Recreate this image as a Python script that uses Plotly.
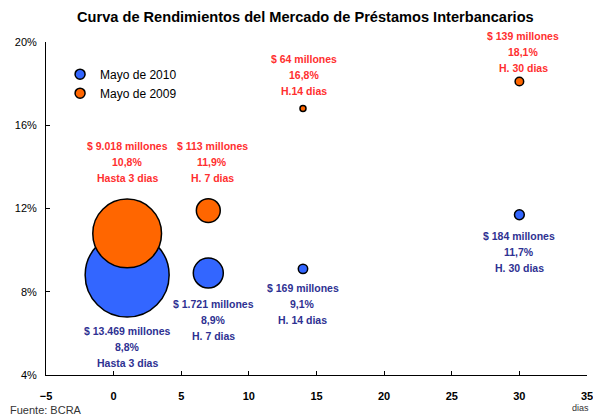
import plotly.graph_objects as go

# plazo en dias
plazo = [1, 7, 14, 30]

# Mayo de 2010
tasa_2010 = [8.8, 8.9, 9.1, 11.7]
monto_2010 = [13469, 1721, 169, 184]
etiq_2010 = ["$ 13.469 millones", "$ 1.721 millones", "$ 169 millones", "$ 184 millones"]
pct_2010 = ["8,8%", "8,9%", "9,1%", "11,7%"]
plazo_2010 = ["Hasta 3 dias", "H. 7 dias", "H. 14 dias", "H. 30 dias"]

# Mayo de 2009
tasa_2009 = [10.8, 11.9, 16.8, 18.1]
monto_2009 = [9018, 113, 64, 139]
# tamaño de burbuja tal como aparece en el grafico (la de 7 dias esta sobredimensionada)
burbuja_2009 = [9018, 1090, 64, 139]
etiq_2009 = ["$ 9.018 millones", "$ 113 millones", "$ 64 millones", "$ 139 millones"]
pct_2009 = ["10,8%", "11,9%", "16,8%", "18,1%"]
plazo_2009 = ["Hasta 3 dias", "H. 7 dias", "H.14 dias", "H. 30 dias"]

FONT = "Liberation Sans"
AZUL = "#3366FF"
NARANJA = "#FF6600"
TXT_AZUL = "#2E3192"
TXT_ROJO = "#FF2F2F"
sizeref = 13469 / (2 * 42 ** 2)

fig = go.Figure()
fig.add_trace(go.Scatter(
    x=plazo, y=tasa_2010, mode="markers", name="Mayo de 2010", showlegend=False,
    marker=dict(size=monto_2010, sizemode="area", sizeref=sizeref, sizemin=3,
                color=AZUL, opacity=1, line=dict(color="black", width=1.5)),
))
fig.add_trace(go.Scatter(
    x=plazo, y=tasa_2009, mode="markers", name="Mayo de 2009", showlegend=False,
    marker=dict(size=burbuja_2009, sizemode="area", sizeref=sizeref, sizemin=3,
                color=NARANJA, opacity=1, line=dict(color="black", width=1.5)),
))
# entradas de leyenda con simbolo chico
for nombre, col in [("Mayo de 2010", AZUL), ("Mayo de 2009", NARANJA)]:
    fig.add_trace(go.Scatter(x=[None], y=[None], mode="markers", name=nombre,
                             marker=dict(size=10, color=col, line=dict(color="black", width=1.5))))

# desplazamientos (px) del centro de cada bloque de texto respecto del punto
shift_2010 = [(0, -72), (5, -47), (0, -35), (0, -37)]
shift_2009 = [(0, 71), (4, 49), (1, 34), (4, 30)]

def etiquetas(ys, lineas, shifts, color):
    for i in range(len(plazo)):
        dx, dy = shifts[i]
        for k, txt in enumerate(lineas):
            fig.add_annotation(
                x=plazo[i], y=ys[i], xref="x", yref="y", text=txt[i],
                showarrow=False, xanchor="center", yanchor="middle",
                xshift=dx, yshift=dy + (1 - k) * 16,
                font=dict(family=FONT, size=10.5, color=color, weight="bold"),
            )

etiquetas(tasa_2010, [etiq_2010, pct_2010, plazo_2010], shift_2010, TXT_AZUL)
etiquetas(tasa_2009, [etiq_2009, pct_2009, plazo_2009], shift_2009, TXT_ROJO)

fig.add_annotation(x=1, y=0, xref="paper", yref="paper", text="dias", showarrow=False,
                   xanchor="right", yanchor="top", yshift=-26, xshift=4,
                   font=dict(family=FONT, size=9, color="#333333"))
fig.add_annotation(x=0, y=0, xref="paper", yref="paper", text="Fuente: BCRA", showarrow=False,
                   xanchor="left", yanchor="top", yshift=-27, xshift=-38,
                   font=dict(family=FONT, size=11, color="#333333"))

fig.update_layout(
    width=593, height=416,
    margin=dict(l=46, r=6, t=42, b=41),
    paper_bgcolor="white", plot_bgcolor="white",
    title=dict(text="<b>Curva de Rendimientos del Mercado de Préstamos Interbancarios</b>",
               x=0.515, xanchor="center", y=0.959, yanchor="middle",
               font=dict(family=FONT, size=14.6, color="black")),
    font=dict(family=FONT, color="black"),
    showlegend=True,
    legend=dict(x=0.026, y=0.947, xanchor="left", yanchor="top", bgcolor="rgba(0,0,0,0)",
                font=dict(family=FONT, size=12, color="black"),
                itemwidth=30, tracegroupgap=0),
    xaxis=dict(range=[-5, 35], tickvals=[-5, 0, 5, 10, 15, 20, 25, 30, 35],
               showgrid=False, zeroline=False, showline=True, linecolor="black", linewidth=1,
               ticks="inside", ticklen=4, tickcolor="black", automargin=False,
               ticklabeloverflow="allow",
               tickfont=dict(family=FONT, size=11, weight="bold"), ticklabelstandoff=11),
    yaxis=dict(range=[4, 20], tickvals=[4, 8, 12, 16, 20], ticktext=["4%", "8%", "12%", "16%", "20%"],
               showgrid=False, zeroline=False, showline=True, linecolor="black", linewidth=1,
               ticks="inside", ticklen=4, tickcolor="black", automargin=False,
               tickfont=dict(family=FONT, size=11), ticklabelstandoff=6),
)

fig.write_html("out.html", config={"displayModeBar": False},
               post_script="document.body.style.margin='0';")
